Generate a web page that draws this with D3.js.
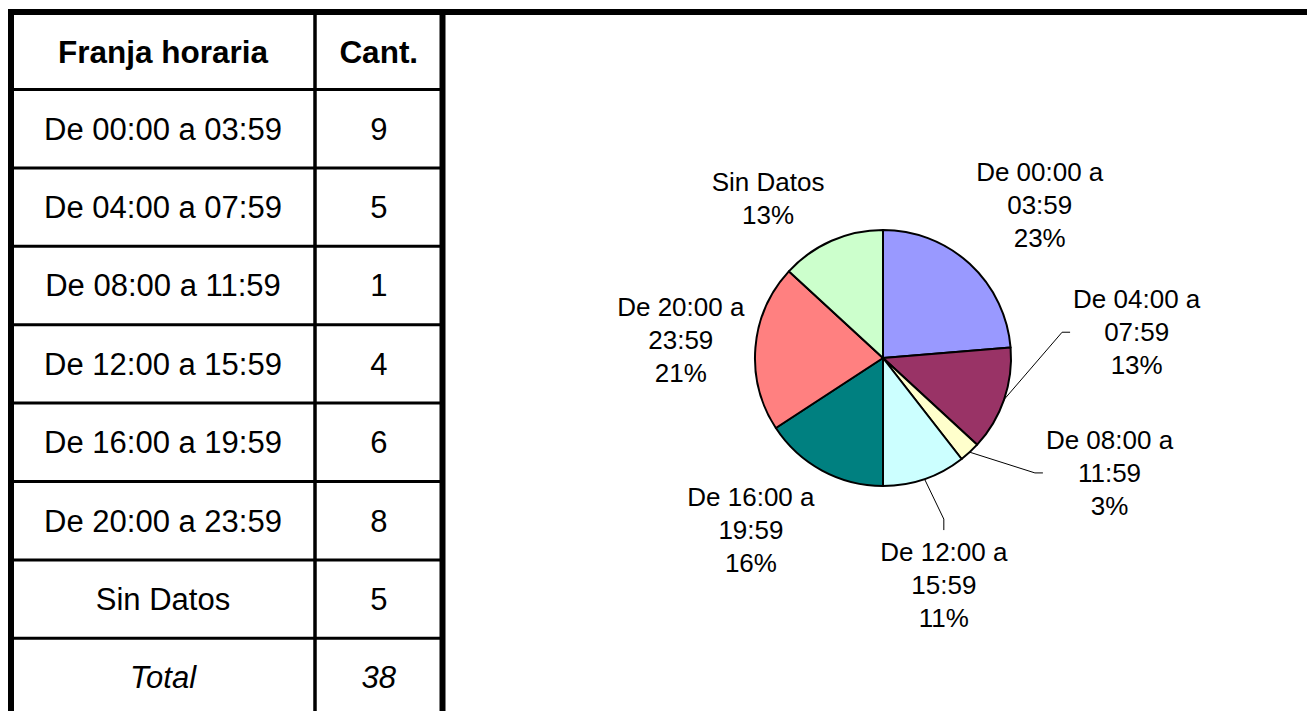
<!DOCTYPE html>
<html>
<head>
<meta charset="utf-8">
<script src="https://cdn.jsdelivr.net/npm/d3@7"></script>
<style>
body { margin: 0; background: #fff; overflow: hidden; }
text { font-family: "Liberation Sans", Arial, sans-serif; fill: #000; }
</style>
</head>
<body>
<svg id="chart" width="1307" height="711"></svg>
<script>
// table data
var headers = ["Franja horaria", "Cant."];
var franjas = ["De 00:00 a 03:59", "De 04:00 a 07:59", "De 08:00 a 11:59", "De 12:00 a 15:59",
               "De 16:00 a 19:59", "De 20:00 a 23:59", "Sin Datos"];
var cantidades = [9, 5, 1, 4, 6, 8, 5];
var totalLabel = "Total";

// pie labels (as printed on the chart)
var pieNames = [["De 00:00 a", "03:59"], ["De 04:00 a", "07:59"], ["De 08:00 a", "11:59"],
                ["De 12:00 a", "15:59"], ["De 16:00 a", "19:59"], ["De 20:00 a", "23:59"], ["Sin Datos"]];
var pctLabels = ["23%", "13%", "3%", "11%", "16%", "21%", "13%"];
var sliceColors = ["#9999FF", "#993366", "#FFFFCC", "#CCFFFF", "#008080", "#FF8080", "#CCFFCC"];

var svg = d3.select("#chart");

// ---- table ----
var tLeft = 11, tRight = 442.5, colDiv = 315;
var headTop = 12, headBottom = 89.5, rowH = 78.4;
var rowY = d3.scaleLinear().domain([0, 1]).range([headBottom, headBottom + rowH]);

var rows = franjas.map(function(f, i) { return { a: f, b: cantidades[i], italic: false }; });
rows.push({ a: totalLabel, b: d3.sum(cantidades), italic: true });

var col1 = (tLeft + colDiv) / 2, col2 = (colDiv + tRight) / 2;

svg.selectAll("text.head")
    .data(headers)
    .enter().append("text")
    .attr("class", "head")
    .attr("x", function(d, i) { return i ? col2 : col1; })
    .attr("y", (headTop + headBottom) / 2 + 1)
    .attr("dy", "0.35em").attr("text-anchor", "middle")
    .style("font-size", "31.5px").style("font-weight", "bold")
    .text(function(d) { return d; });

var rg = svg.selectAll("g.row")
    .data(rows)
    .enter().append("g")
    .attr("class", "row")
    .attr("transform", function(d, i) { return "translate(0," + (rowY(i) + rowH / 2) + ")"; });

rg.append("text")
    .attr("x", col1).attr("dy", "0.35em").attr("text-anchor", "middle")
    .style("font-size", "31px")
    .style("font-style", function(d) { return d.italic ? "italic" : "normal"; })
    .text(function(d) { return d.a; });
rg.append("text")
    .attr("x", col2).attr("dy", "0.35em").attr("text-anchor", "middle")
    .style("font-size", "31px")
    .style("font-style", function(d) { return d.italic ? "italic" : "normal"; })
    .text(function(d) { return d.b; });

// row lines
svg.selectAll("line.hl")
    .data(d3.range(rows.length))
    .enter().append("line")
    .attr("class", "hl")
    .attr("x1", tLeft).attr("x2", tRight)
    .attr("y1", function(i) { return rowY(i); })
    .attr("y2", function(i) { return rowY(i); })
    .attr("stroke", "#000").attr("stroke-width", 3);

svg.append("line").attr("x1", colDiv).attr("x2", colDiv).attr("y1", headTop).attr("y2", 711)
    .attr("stroke", "#000").attr("stroke-width", 3.5);
svg.append("line").attr("x1", tLeft).attr("x2", tLeft).attr("y1", 9).attr("y2", 711)
    .attr("stroke", "#000").attr("stroke-width", 6);
svg.append("line").attr("x1", tRight).attr("x2", tRight).attr("y1", 9).attr("y2", 711)
    .attr("stroke", "#000").attr("stroke-width", 6);
svg.append("line").attr("x1", 8).attr("x2", 1307).attr("y1", 12).attr("y2", 12)
    .attr("stroke", "#000").attr("stroke-width", 6);

// ---- pie ----
var cx = 883, cy = 358, R = 128;
var pie = d3.pie().sort(null).value(function(d) { return d; });
var arc = d3.arc().innerRadius(0).outerRadius(R);
var arcs = pie(cantidades);

var pg = svg.append("g").attr("transform", "translate(" + cx + "," + cy + ")");

pg.selectAll("path")
    .data(arcs)
    .enter().append("path")
    .attr("d", arc)
    .attr("fill", function(d, i) { return sliceColors[i]; })
    .attr("stroke", "#000").attr("stroke-width", 2).attr("stroke-linejoin", "round");

// label placement (angle in degrees clockwise from top, distance from centre)
var labelPlace = [
    { a: 45.7, r: 219 }, { a: 84.2, r: 255, leader: "left" }, { a: 116.9, r: 254, leader: "left" },
    { a: 165, r: 235, leader: "top" }, { a: 217.5, r: 217 }, { a: 275, r: 203 }, { a: 324.3, r: 197 }
];
var lineGap = 33;

function polar(a, r) {
    var t = a * Math.PI / 180;
    return [r * Math.sin(t), -r * Math.cos(t)];
}

arcs.forEach(function(d, i) {
    var lines = pieNames[i].concat([pctLabels[i]]);
    var p = polar(labelPlace[i].a, labelPlace[i].r);
    var t = pg.append("text")
        .attr("text-anchor", "middle")
        .style("font-size", "26px");
    lines.forEach(function(s, k) {
        t.append("tspan")
            .attr("x", p[0])
            .attr("y", p[1] + (k - (lines.length - 1) / 2) * lineGap)
            .attr("dy", "0.35em")
            .text(s);
    });

    if (labelPlace[i].leader) {
        var bb = t.node().getBBox();
        var mid = (d.startAngle + d.endAngle) / 2;
        var s0 = [R * Math.sin(mid), -R * Math.cos(mid)];
        var pts;
        if (labelPlace[i].leader === "left") {
            var ly = p[1];
            var ex = bb.x - 3;
            pts = [s0, [ex - 8, ly], [ex, ly]];
        } else {
            var ey = bb.y - 7;
            pts = [s0, [p[0], ey - 11], [p[0], ey]];
        }
        pg.append("path")
            .attr("d", d3.line()(pts))
            .attr("fill", "none")
            .attr("stroke", "#000").attr("stroke-width", 1);
    }
});
</script>
</body>
</html>
